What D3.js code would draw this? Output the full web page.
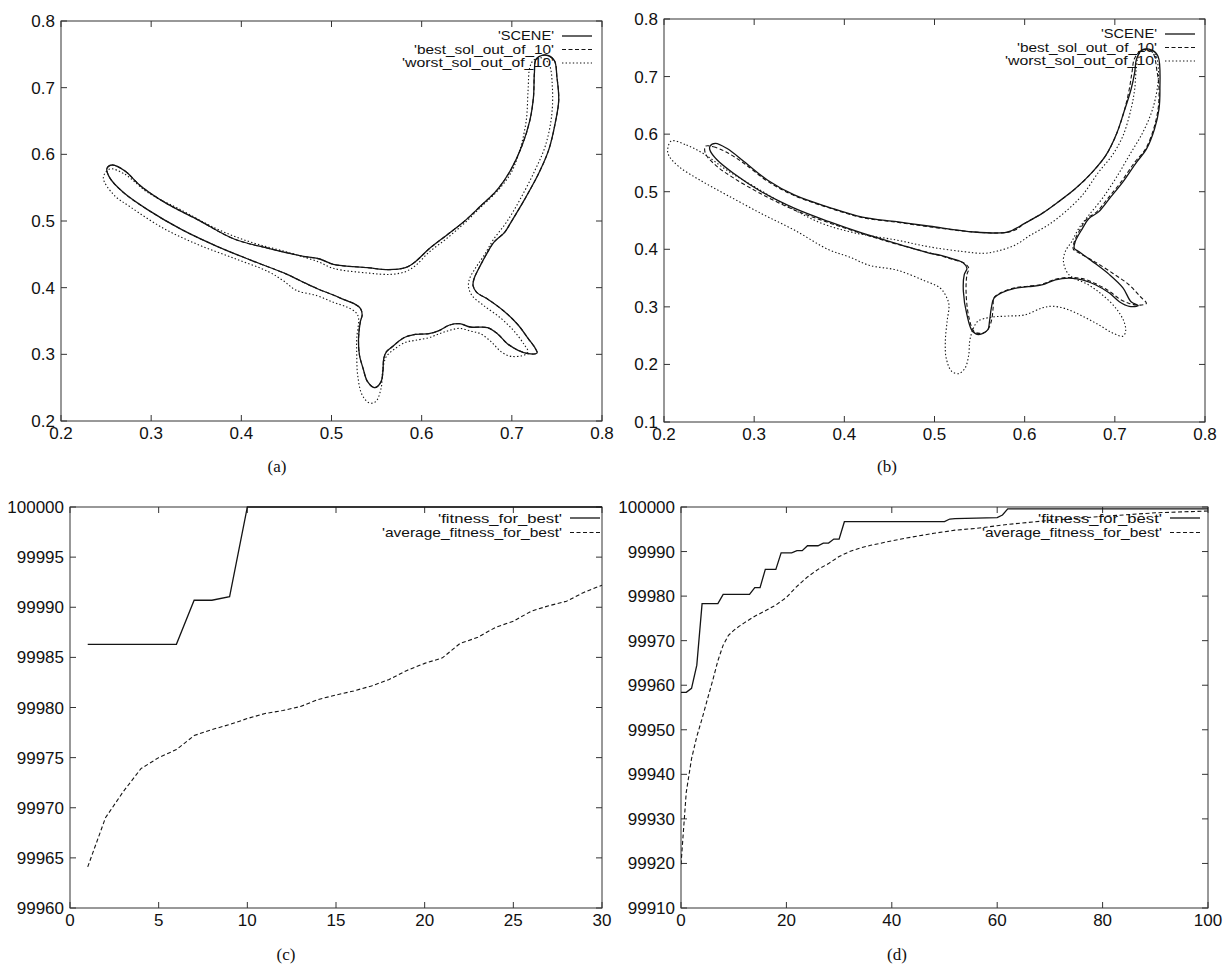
<!DOCTYPE html>
<html>
<head>
<meta charset="utf-8">
<script src="https://d3js.org/d3.v7.min.js"></script>
<style>
  body { margin: 0; background: #fff; }
  svg text { font-family: "Liberation Sans", Arial, sans-serif; fill: #111; }
  svg text.caption { font-family: "Liberation Serif", "Times New Roman", serif; }
</style>
</head>
<body>
<svg id="fig" width="1230" height="971"></svg>
<script>
// ---- panel (a): contours, [x, y] points ----
const sceneA = [
  [0.257,0.584],[0.271,0.575],[0.288,0.553],[0.315,0.528],[0.353,0.501],[0.392,0.473],
  [0.430,0.459],[0.469,0.447],[0.487,0.443],[0.502,0.435],[0.540,0.430],[0.563,0.427],
  [0.582,0.430],[0.593,0.439],[0.608,0.458],[0.627,0.478],[0.646,0.498],[0.665,0.522],
  [0.684,0.547],[0.699,0.577],[0.711,0.612],[0.720,0.651],[0.724,0.686],[0.725,0.721],
  [0.727,0.743],[0.737,0.749],[0.747,0.741],[0.750,0.716],[0.752,0.681],[0.748,0.646],
  [0.741,0.607],[0.730,0.572],[0.714,0.532],[0.699,0.498],[0.692,0.483],[0.680,0.468],
  [0.673,0.453],[0.665,0.433],[0.658,0.413],[0.657,0.403],[0.661,0.393],[0.673,0.383],
  [0.692,0.364],[0.707,0.344],[0.718,0.324],[0.726,0.309],[0.728,0.302],[0.718,0.301],
  [0.707,0.306],[0.695,0.316],[0.684,0.331],[0.673,0.340],[0.654,0.341],[0.642,0.346],
  [0.631,0.344],[0.620,0.336],[0.608,0.331],[0.593,0.330],[0.582,0.326],[0.574,0.319],
  [0.567,0.311],[0.561,0.304],[0.558,0.294],[0.557,0.274],[0.555,0.259],[0.548,0.250],
  [0.540,0.259],[0.535,0.279],[0.531,0.299],[0.530,0.324],[0.532,0.349],[0.534,0.359],
  [0.532,0.369],[0.525,0.376],[0.514,0.382],[0.502,0.389],[0.485,0.398],[0.466,0.410],
  [0.449,0.421],[0.411,0.441],[0.373,0.462],[0.334,0.487],[0.296,0.517],[0.269,0.543],
  [0.254,0.565],[0.251,0.579]
];
// the best solution lies on top of the scene outline in (a)
const bestA = sceneA;
const worstA = [
  [0.254,0.578],[0.271,0.570],[0.296,0.543],[0.334,0.516],[0.373,0.488],[0.411,0.468],
  [0.449,0.454],[0.485,0.439],[0.502,0.429],[0.540,0.422],[0.566,0.420],[0.582,0.424],
  [0.593,0.433],[0.608,0.453],[0.627,0.473],[0.646,0.495],[0.665,0.520],[0.684,0.545],
  [0.699,0.572],[0.709,0.607],[0.716,0.651],[0.718,0.696],[0.720,0.731],[0.724,0.741],
  [0.732,0.745],[0.741,0.736],[0.745,0.700],[0.744,0.656],[0.737,0.612],[0.726,0.577],
  [0.709,0.532],[0.694,0.498],[0.680,0.473],[0.669,0.448],[0.659,0.428],[0.653,0.413],
  [0.652,0.401],[0.656,0.388],[0.669,0.373],[0.688,0.354],[0.703,0.334],[0.714,0.314],
  [0.718,0.304],[0.714,0.299],[0.699,0.297],[0.688,0.304],[0.677,0.319],[0.665,0.331],
  [0.654,0.335],[0.642,0.339],[0.631,0.336],[0.620,0.331],[0.608,0.325],[0.593,0.321],
  [0.582,0.318],[0.571,0.309],[0.561,0.297],[0.557,0.279],[0.555,0.249],[0.549,0.229],
  [0.542,0.227],[0.534,0.239],[0.529,0.269],[0.528,0.299],[0.528,0.324],[0.530,0.354],
  [0.527,0.363],[0.517,0.371],[0.502,0.378],[0.484,0.388],[0.461,0.396],[0.447,0.410],
  [0.430,0.424],[0.392,0.444],[0.353,0.464],[0.315,0.488],[0.277,0.521],[0.258,0.540],
  [0.247,0.565]
];

// ---- panel (b) ----
const sceneB = [
  [0.257,0.584],[0.270,0.575],[0.289,0.552],[0.315,0.520],[0.345,0.494],[0.383,0.473],
  [0.420,0.456],[0.458,0.448],[0.495,0.440],[0.544,0.430],[0.578,0.429],[0.585,0.432],
  [0.600,0.445],[0.619,0.462],[0.637,0.482],[0.656,0.505],[0.675,0.534],[0.690,0.563],
  [0.701,0.597],[0.710,0.638],[0.718,0.678],[0.722,0.707],[0.724,0.730],[0.730,0.746],
  [0.741,0.746],[0.748,0.735],[0.750,0.678],[0.749,0.644],[0.744,0.609],[0.735,0.574],
  [0.724,0.551],[0.709,0.517],[0.694,0.488],[0.682,0.465],[0.671,0.453],[0.664,0.436],
  [0.656,0.413],[0.655,0.402],[0.660,0.396],[0.675,0.379],[0.694,0.356],[0.709,0.333],
  [0.718,0.309],[0.726,0.302],[0.716,0.301],[0.705,0.309],[0.694,0.324],[0.679,0.338],
  [0.664,0.347],[0.649,0.350],[0.634,0.347],[0.619,0.338],[0.604,0.335],[0.589,0.332],
  [0.574,0.324],[0.566,0.315],[0.563,0.298],[0.561,0.275],[0.559,0.260],[0.549,0.252],
  [0.542,0.258],[0.536,0.286],[0.532,0.327],[0.533,0.356],[0.536,0.367],[0.532,0.376],
  [0.521,0.383],[0.506,0.390],[0.495,0.393],[0.458,0.410],[0.420,0.428],[0.383,0.448],
  [0.345,0.471],[0.308,0.500],[0.277,0.532],[0.259,0.555],[0.251,0.572],[0.251,0.579]
];
const bestB = [
  [0.246,0.579],[0.255,0.578],[0.270,0.568],[0.289,0.549],[0.315,0.518],[0.345,0.493],
  [0.383,0.472],[0.420,0.455],[0.458,0.447],[0.495,0.439],[0.544,0.430],[0.578,0.429],
  [0.590,0.434],[0.600,0.445],[0.619,0.462],[0.637,0.482],[0.656,0.505],[0.675,0.534],
  [0.690,0.563],[0.701,0.597],[0.710,0.638],[0.716,0.678],[0.719,0.707],[0.722,0.732],
  [0.730,0.746],[0.741,0.744],[0.747,0.707],[0.749,0.678],[0.748,0.644],[0.743,0.609],
  [0.734,0.574],[0.722,0.551],[0.707,0.517],[0.692,0.488],[0.680,0.465],[0.669,0.453],
  [0.662,0.436],[0.655,0.413],[0.654,0.400],[0.660,0.394],[0.677,0.379],[0.698,0.358],
  [0.716,0.338],[0.728,0.318],[0.735,0.306],[0.728,0.303],[0.716,0.306],[0.705,0.314],
  [0.694,0.327],[0.679,0.340],[0.664,0.349],[0.649,0.351],[0.634,0.348],[0.619,0.339],
  [0.604,0.336],[0.589,0.333],[0.574,0.325],[0.566,0.316],[0.565,0.298],[0.563,0.275],
  [0.558,0.258],[0.551,0.254],[0.544,0.257],[0.538,0.283],[0.535,0.327],[0.536,0.356],
  [0.538,0.367],[0.533,0.376],[0.521,0.382],[0.506,0.389],[0.458,0.409],[0.420,0.427],
  [0.383,0.446],[0.345,0.468],[0.308,0.496],[0.277,0.524],[0.258,0.545],[0.246,0.566]
];
const worstB = [
  [0.208,0.588],[0.225,0.581],[0.244,0.566],[0.270,0.537],[0.300,0.509],[0.338,0.474],
  [0.375,0.445],[0.413,0.428],[0.458,0.416],[0.495,0.404],[0.532,0.396],[0.555,0.393],
  [0.570,0.397],[0.589,0.407],[0.607,0.425],[0.626,0.442],[0.645,0.465],[0.664,0.494],
  [0.682,0.534],[0.697,0.563],[0.709,0.597],[0.718,0.644],[0.722,0.678],[0.724,0.718],
  [0.727,0.740],[0.735,0.746],[0.745,0.738],[0.748,0.718],[0.748,0.690],[0.742,0.644],
  [0.731,0.603],[0.716,0.563],[0.701,0.523],[0.686,0.488],[0.671,0.459],[0.660,0.436],
  [0.652,0.413],[0.645,0.396],[0.643,0.379],[0.649,0.356],[0.671,0.338],[0.686,0.321],
  [0.701,0.298],[0.710,0.275],[0.712,0.258],[0.709,0.249],[0.697,0.255],[0.682,0.269],
  [0.664,0.284],[0.645,0.297],[0.630,0.301],[0.619,0.298],[0.600,0.286],[0.581,0.284],
  [0.563,0.282],[0.548,0.275],[0.542,0.258],[0.539,0.240],[0.538,0.217],[0.534,0.194],
  [0.527,0.184],[0.519,0.188],[0.513,0.211],[0.512,0.240],[0.514,0.275],[0.516,0.304],
  [0.512,0.321],[0.506,0.333],[0.488,0.346],[0.458,0.364],[0.428,0.372],[0.405,0.387],
  [0.383,0.399],[0.345,0.433],[0.308,0.462],[0.270,0.494],[0.240,0.520],[0.217,0.543],
  [0.206,0.561],[0.204,0.572]
];

// ---- panel (c): generations 1..30 ----
const genC = d3.range(1, 31);
const fitnessC = [
  99986.3, 99986.3, 99986.3, 99986.3, 99986.3, 99986.3, 99990.7, 99990.7, 99991.05, 100000,
  100000, 100000, 100000, 100000, 100000, 100000, 100000, 100000, 100000, 100000,
  100000, 100000, 100000, 100000, 100000, 100000, 100000, 100000, 100000, 100000
];
const averageC = [
  99964.1, 99969.0, 99971.6, 99973.9, 99975.0, 99975.8, 99977.2, 99977.8, 99978.3, 99978.9,
  99979.4, 99979.7, 99980.1, 99980.8, 99981.25, 99981.65, 99982.15, 99982.8, 99983.7, 99984.4,
  99984.95, 99986.4, 99987.0, 99988.0, 99988.6, 99989.6, 99990.15, 99990.6, 99991.5, 99992.2
];

// ---- panel (d): generations 0..100 ----
const genFitD = [0, 1, 2, 3, 4, 7, 8, 13, 14, 15, 16, 18, 19, 21, 22, 23, 24, 26, 27, 28, 29, 30, 31, 50, 51, 52, 60, 61, 62, 100];
const fitnessD = [
  99958.4, 99958.4, 99959.3, 99964.5, 99978.3, 99978.3, 99980.4, 99980.4, 99981.9, 99981.9,
  99986.0, 99986.0, 99989.7, 99989.7, 99990.2, 99990.2, 99991.3, 99991.3, 99991.9, 99991.9,
  99992.8, 99992.8, 99996.7, 99996.7, 99997.3, 99997.4, 99997.6, 99998.2, 99999.6, 99999.6
];
const genAvgD = [0, 1, 2, 3, 4, 5, 6, 7, 8, 9, 10, 11, 12, 14, 16, 18, 20, 22, 24, 26, 28, 30, 32, 34, 36, 40, 44, 48, 52, 56, 60, 62, 70, 80, 90, 95, 100];
const averageD = [
  99919.8, 99936.0, 99943.5, 99948.5, 99952.5, 99956.8, 99961.0, 99965.5, 99969.0, 99971.2,
  99972.3, 99973.2, 99974.0, 99975.5, 99976.7, 99978.0, 99979.7, 99982.2, 99984.3, 99986.0,
  99987.3, 99988.9, 99990.0, 99990.8, 99991.4, 99992.4, 99993.3, 99994.1, 99994.8, 99995.2,
  99995.8, 99996.1, 99997.0, 99997.9, 99998.7, 99998.9, 99999.1
];

// tick values
const shapeXTicks = [0.2, 0.3, 0.4, 0.5, 0.6, 0.7, 0.8];
const shapeYTicksA = [0.2, 0.3, 0.4, 0.5, 0.6, 0.7, 0.8];
const shapeYTicksB = [0.1, 0.2, 0.3, 0.4, 0.5, 0.6, 0.7, 0.8];
const genXTicksC = [0, 5, 10, 15, 20, 25, 30];
const fitYTicksC = [99960, 99965, 99970, 99975, 99980, 99985, 99990, 99995, 100000];
const genXTicksD = [0, 20, 40, 60, 80, 100];
const fitYTicksD = [99910, 99920, 99930, 99940, 99950, 99960, 99970, 99980, 99990, 100000];

const svg = d3.select("#fig");
const INK = "#141414";
const DASH = { solid: null, dashed: "4,2.5", dotted: "1.4,2.2" };

function drawPanel(p) {
  const x = d3.scaleLinear().domain(p.xDomain).range([p.left, p.right]);
  const y = d3.scaleLinear().domain(p.yDomain).range([p.bottom, p.top]);
  const g = svg.append("g");
  const tick = 6;

  // frame
  g.append("rect")
    .attr("x", p.left).attr("y", p.top)
    .attr("width", p.right - p.left).attr("height", p.bottom - p.top)
    .attr("fill", "none").attr("stroke", "#333").attr("stroke-width", 1);

  // ticks inside on all four sides, gnuplot style
  p.xTicks.forEach(v => {
    const px = x(v);
    g.append("line").attr("x1", px).attr("x2", px).attr("y1", p.bottom).attr("y2", p.bottom - tick)
      .attr("stroke", "#333");
    g.append("line").attr("x1", px).attr("x2", px).attr("y1", p.top).attr("y2", p.top + tick)
      .attr("stroke", "#333");
    g.append("text").attr("x", px).attr("y", p.bottom + 18)
      .attr("text-anchor", "middle").attr("font-size", 17).text(p.fmtX(v));
  });
  p.yTicks.forEach(v => {
    const py = y(v);
    g.append("line").attr("x1", p.left).attr("x2", p.left + tick).attr("y1", py).attr("y2", py)
      .attr("stroke", "#333");
    g.append("line").attr("x1", p.right).attr("x2", p.right - tick).attr("y1", py).attr("y2", py)
      .attr("stroke", "#333");
    g.append("text").attr("x", p.left - 6).attr("y", py + 6)
      .attr("text-anchor", "end").attr("font-size", 17).text(p.fmtY(v));
  });

  const clipId = "clip" + p.caption.replace(/\W/g, "");
  g.append("clipPath").attr("id", clipId).append("rect")
    .attr("x", p.left).attr("y", p.top - 1)
    .attr("width", p.right - p.left).attr("height", p.bottom - p.top + 2);

  const line = d3.line()
    .x(d => x(d[0])).y(d => y(d[1]))
    .curve(p.closed ? d3.curveCatmullRomClosed.alpha(0.5) : d3.curveLinear);

  const plot = g.append("g").attr("clip-path", `url(#${clipId})`);
  p.series.slice().reverse().forEach(s => {
    plot.append("path")
      .attr("d", line(s.data))
      .attr("fill", "none")
      .attr("stroke", INK)
      .attr("stroke-width", s.style === "solid" ? 1.3 : 1.1)
      .attr("stroke-dasharray", DASH[s.style]);
  });

  // legend, top right, text right-aligned before a line sample
  p.series.forEach((s, i) => {
    const ly = p.legendTop + i * p.legendStep;
    g.append("text")
      .attr("x", p.legendRight).attr("y", ly + p.legendSize * 0.36)
      .attr("text-anchor", "end").attr("font-size", p.legendSize)
      .attr("textLength", s.width).attr("lengthAdjust", "spacingAndGlyphs")
      .text(s.name);
    g.append("line")
      .attr("x1", p.legendRight + 8).attr("x2", p.legendRight + 38)
      .attr("y1", ly).attr("y2", ly)
      .attr("stroke", INK).attr("stroke-width", s.style === "solid" ? 1.3 : 1.1)
      .attr("stroke-dasharray", DASH[s.style]);
  });

  g.append("text").attr("class", "caption")
    .attr("x", p.captionX).attr("y", p.captionY)
    .attr("text-anchor", "middle").attr("font-size", 17)
    .text(p.caption);
}

const fmt1 = d3.format(".1f");
const fmt0 = d3.format("d");

drawPanel({
  left: 61, right: 602, top: 21, bottom: 421,
  xDomain: [0.2, 0.8], yDomain: [0.2, 0.8],
  xTicks: shapeXTicks, yTicks: shapeYTicksA, fmtX: fmt1, fmtY: fmt1,
  closed: true,
  series: [
    { name: "'SCENE'", data: sceneA, style: "solid", width: 56 },
    { name: "'best_sol_out_of_10'", data: bestA, style: "dashed", width: 140 },
    { name: "'worst_sol_out_of_10'", data: worstA, style: "dotted", width: 152 }
  ],
  legendRight: 554, legendTop: 36, legendStep: 13.5, legendSize: 12,
  caption: "(a)", captionX: 277, captionY: 472
});

drawPanel({
  left: 664, right: 1205, top: 19, bottom: 422,
  xDomain: [0.2, 0.8], yDomain: [0.1, 0.8],
  xTicks: shapeXTicks, yTicks: shapeYTicksB, fmtX: fmt1, fmtY: fmt1,
  closed: true,
  series: [
    { name: "'SCENE'", data: sceneB, style: "solid", width: 56 },
    { name: "'best_sol_out_of_10'", data: bestB, style: "dashed", width: 140 },
    { name: "'worst_sol_out_of_10'", data: worstB, style: "dotted", width: 152 }
  ],
  legendRight: 1157, legendTop: 34, legendStep: 13.5, legendSize: 12,
  caption: "(b)", captionX: 887, captionY: 472
});

drawPanel({
  left: 70, right: 602, top: 507, bottom: 908,
  xDomain: [0, 30], yDomain: [99960, 100000],
  xTicks: genXTicksC, yTicks: fitYTicksC, fmtX: fmt0, fmtY: fmt0,
  closed: false,
  series: [
    { name: "'fitness_for_best'", data: d3.zip(genC, fitnessC), style: "solid", width: 124 },
    { name: "'average_fitness_for_best'", data: d3.zip(genC, averageC), style: "dashed", width: 180 }
  ],
  legendRight: 562, legendTop: 518, legendStep: 14.5, legendSize: 13,
  caption: "(c)", captionX: 286, captionY: 960
});

drawPanel({
  left: 681, right: 1208, top: 507, bottom: 908,
  xDomain: [0, 100], yDomain: [99910, 100000],
  xTicks: genXTicksD, yTicks: fitYTicksD, fmtX: fmt0, fmtY: fmt0,
  closed: false,
  series: [
    { name: "'fitness_for_best'", data: d3.zip(genFitD, fitnessD), style: "solid", width: 124 },
    { name: "'average_fitness_for_best'", data: d3.zip(genAvgD, averageD), style: "dashed", width: 180 }
  ],
  legendRight: 1162, legendTop: 518, legendStep: 14.5, legendSize: 13,
  caption: "(d)", captionX: 897, captionY: 960
});
</script>
</body>
</html>
